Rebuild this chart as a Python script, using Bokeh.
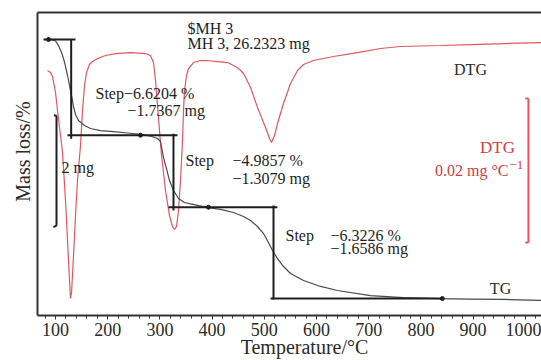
from bokeh.plotting import figure
from bokeh.models import Range1d, LinearAxis, FixedTicker
from bokeh.core.properties import value
from bokeh.embed import file_html
from bokeh.resources import INLINE

# ---------------- data ----------------
sample_name = "MH 3"
sample_mass_mg = 26.2323

temp_tg = [84.7, 94.3, 100.0, 105.7, 111.5, 115.3, 119.2, 123.0, 126.8, 130.7,
           134.5, 138.3, 144.1, 155.6, 167.0, 186.2, 211.1, 237.9, 262.8, 282.0,
           295.4, 301.1, 306.9, 312.6, 318.4, 326.1, 335.6, 347.1, 358.6, 393.1,
           416.1, 441.0, 460.2, 473.6, 487.0, 498.5, 508.0, 515.7, 525.3, 536.8,
           550.2, 575.1, 607.7, 640.2, 703.4, 766.7, 831.8, 895.0, 962.1, 1031.0]
tg_pct = [100.00, 99.97, 99.90, 99.58, 99.10, 98.69, 98.13, 97.51, 96.82, 96.12,
          95.36, 94.81, 94.39, 94.05, 93.84, 93.70, 93.63, 93.53, 93.43, 93.32,
          93.15, 92.94, 91.83, 91.07, 90.24, 89.55, 89.00, 88.72, 88.62, 88.37,
          88.24, 88.03, 87.75, 87.47, 87.06, 86.57, 85.95, 85.40, 84.84, 84.29,
          83.81, 83.32, 82.91, 82.63, 82.28, 82.14, 82.07, 82.04, 82.01, 81.94]

temp_dtg = [84.7, 90.4, 94.3, 100.0, 103.8, 109.6, 113.4, 119.2, 123.0, 126.8,
            128.7, 130.7, 134.5, 138.3, 142.1, 147.9, 151.7, 155.6, 159.4, 165.1,
            170.9, 180.5, 195.8, 214.9, 243.7, 272.4, 282.0, 287.7, 291.6, 295.4,
            299.2, 303.1, 310.7, 318.4, 324.1, 328.0, 331.8, 335.6, 339.5, 343.3,
            345.2, 347.1, 351.0, 354.8, 364.4, 377.8, 391.2, 410.3, 429.5, 441.0,
            450.6, 460.2, 473.6, 487.0, 502.3, 510.0, 513.8, 519.5, 525.3, 536.8,
            550.2, 563.6, 575.1, 594.3, 632.6, 678.5, 722.6, 760.9, 837.5, 895.0,
            962.1, 1031.0]
dtg_vals = [-0.00417, -0.00444, -0.00500, -0.00722, -0.00972, -0.01319, -0.01556, -0.02222, -0.02778, -0.03333,
            -0.03583, -0.03500, -0.02986, -0.02431, -0.01944, -0.01458, -0.00972, -0.00625, -0.00444, -0.00333,
            -0.00292, -0.00250, -0.00208, -0.00181, -0.00167, -0.00181, -0.00208, -0.00306, -0.00556, -0.00903,
            -0.01250, -0.01597, -0.02083, -0.02431, -0.02583, -0.02625, -0.02583, -0.02361, -0.01944, -0.01389,
            -0.00972, -0.00694, -0.00486, -0.00389, -0.00306, -0.00278, -0.00278, -0.00292, -0.00306, -0.00347,
            -0.00389, -0.00458, -0.00653, -0.00931, -0.01208, -0.01361, -0.01417, -0.01319, -0.01153, -0.00875,
            -0.00597, -0.00417, -0.00333, -0.00278, -0.00222, -0.00167, -0.00111, -0.00083, -0.00069, -0.00056,
            -0.00042, -0.00028]

step_pct = [6.6204, 4.9857, 6.3226]
step_mg = [1.7367, 1.3079, 1.6586]
x_ticks = [100, 200, 300, 400, 500, 600, 700, 800, 900, 1000]

# ---------------- styling ----------------
SERIF = value("Liberation Serif")
BLACK = "#1e1e1e"
AXIS = "#333333"
RED_LINE = "#e4575e"
RED_TEXT = "#d63a44"
NB = "\u00a0"

p = figure(width=541, height=360, output_backend="svg", toolbar_location=None,
           x_range=Range1d(65.5, 1031), y_range=Range1d(80.90, 101.87),
           min_border_left=37, min_border_right=0, min_border_top=12, min_border_bottom=42,
           x_axis_location=None, y_axis_location=None)
p.outline_line_color = None
p.xgrid.visible = False
p.ygrid.visible = False
p.extra_y_ranges = {"dtg": Range1d(-0.03819, 0.00389)}

# bottom axis
xa = LinearAxis(ticker=FixedTicker(ticks=x_ticks, minor_ticks=list(range(80, 1040, 20))),
                axis_label=NB * 6 + "Temperature/\u00b0C")
xa.axis_line_color = AXIS
xa.axis_line_width = 2
xa.major_tick_line_color = AXIS
xa.minor_tick_line_color = AXIS
xa.major_tick_in = 0
xa.major_tick_out = 4
xa.minor_tick_in = 0
xa.minor_tick_out = 3
xa.major_label_standoff = 3
xa.major_label_text_font = "Liberation Serif"
xa.major_label_text_font_size = "18px"
xa.major_label_text_color = "#2a2a2a"
xa.axis_label_standoff = -3
xa.axis_label_text_font = "Liberation Serif"
xa.axis_label_text_font_size = "20px"
xa.axis_label_text_font_style = "normal"
xa.axis_label_text_color = "#2a2a2a"
p.add_layout(xa, "below")

# left axis (line + label)
ya = LinearAxis(ticker=FixedTicker(ticks=[]), axis_label=NB * 5 + "Mass loss/%")
ya.axis_line_color = AXIS
ya.axis_line_width = 2
ya.major_tick_line_color = None
ya.minor_tick_line_color = None
ya.axis_label_standoff = 4
ya.axis_label_text_font = "Liberation Serif"
ya.axis_label_text_font_size = "20px"
ya.axis_label_text_font_style = "normal"
ya.axis_label_text_color = "#2a2a2a"
p.add_layout(ya, "left")

# top frame line
ta = LinearAxis(ticker=FixedTicker(ticks=[]))
ta.axis_line_color = AXIS
ta.axis_line_width = 2
ta.major_tick_line_color = None
ta.minor_tick_line_color = None
p.add_layout(ta, "above")

# curves
p.line(temp_dtg, dtg_vals, y_range_name="dtg", line_color=RED_LINE, line_width=1.2)
p.line(temp_tg, tg_pct, line_color="#4a4a4a", line_width=1.2)

# step brackets
lv0 = 100.0
lv1 = lv0 - step_pct[0]
lv2 = lv1 - step_pct[1]
lv3 = lv2 - step_pct[2]
seg_x0 = [77, 130, 123, 326, 316.5, 517.6, 512]
seg_x1 = [138.3, 130, 333.7, 326, 525, 517.6, 841]
seg_y0 = [lv0, lv0, lv1, lv1 + 0.1, lv2, lv2 + 0.12, lv3]
seg_y1 = [lv0, lv1 - 0.25, lv1, lv2 - 0.22, lv2, lv3 - 0.07, lv3]
p.segment(seg_x0, seg_y0, seg_x1, seg_y1, line_color=BLACK, line_width=2)
p.scatter([86.6, 262.8, 393, 841], [lv0, lv1, lv2, lv3], size=4, color=BLACK)

# 2 mg scale bar
bar_pct = 2 / sample_mass_mg * 100
bar_top = 94.74
p.segment([101.9, 101.9, 101.9], [bar_top, bar_top, bar_top - bar_pct],
          [101.9, 97.0, 96.0], [bar_top - bar_pct, bar_top, bar_top - bar_pct - 0.1],
          line_color=BLACK, line_width=2)

# DTG scale bar (0.02 mg/°C)
rb_top = -0.00806
p.segment([1006, 1006, 1006], [rb_top, rb_top, rb_top - 0.02],
          [1006, 1000, 1000], [rb_top - 0.02, rb_top, rb_top - 0.02],
          y_range_name="dtg", line_color=RED_LINE, line_width=2)

# texts (black)
txt_x = [352.9, 352.9, 176.6, 237.9, 349.0, 439.1, 439.1, 540.6, 626.8, 626.8, 111.5]
txt_y = [100.76, 99.72, 96.24, 95.09, 91.63, 91.63, 90.38, 86.44, 86.44, 85.54, 91.14]
txt = ["$" + sample_name, f"{sample_name}, {sample_mass_mg:.4f} mg",
       f"Step\u2212{step_pct[0]:.4f} %", f"\u2212{step_mg[0]:.4f} mg",
       "Step", f"\u2212{step_pct[1]:.4f} %", f"\u2212{step_mg[1]:.4f} mg",
       "Step", f"\u2212{step_pct[2]:.4f} %", f"\u2212{step_mg[2]:.4f} mg",
       "2 mg"]
p.text(txt_x, txt_y, text=txt, text_font=SERIF, text_font_size="16px",
       text_color=BLACK, text_align="left", text_baseline="middle")

# curve labels
p.text([895.0, 952.5], [97.92, 82.77], text=["DTG", "TG"], text_font=SERIF,
       text_font_size="16px", text_color="#2a2a2a", text_align="center", text_baseline="middle")

# DTG scale labels (red)
p.text([946.7], [92.53], text=["DTG"], text_font=SERIF, text_font_size="17px",
       text_color=RED_TEXT, text_align="center", text_baseline="middle")
p.text([967.8], [90.93], text=["0.02 mg \u00b0C"], text_font=SERIF, text_font_size="16px",
       text_color=RED_TEXT, text_align="right", text_baseline="middle")
p.text([969.7], [91.30], text=["\u22121"], text_font=SERIF, text_font_size="13px",
       text_color=RED_TEXT, text_align="left", text_baseline="middle")

open("out.html", "w").write(file_html(p, INLINE))
